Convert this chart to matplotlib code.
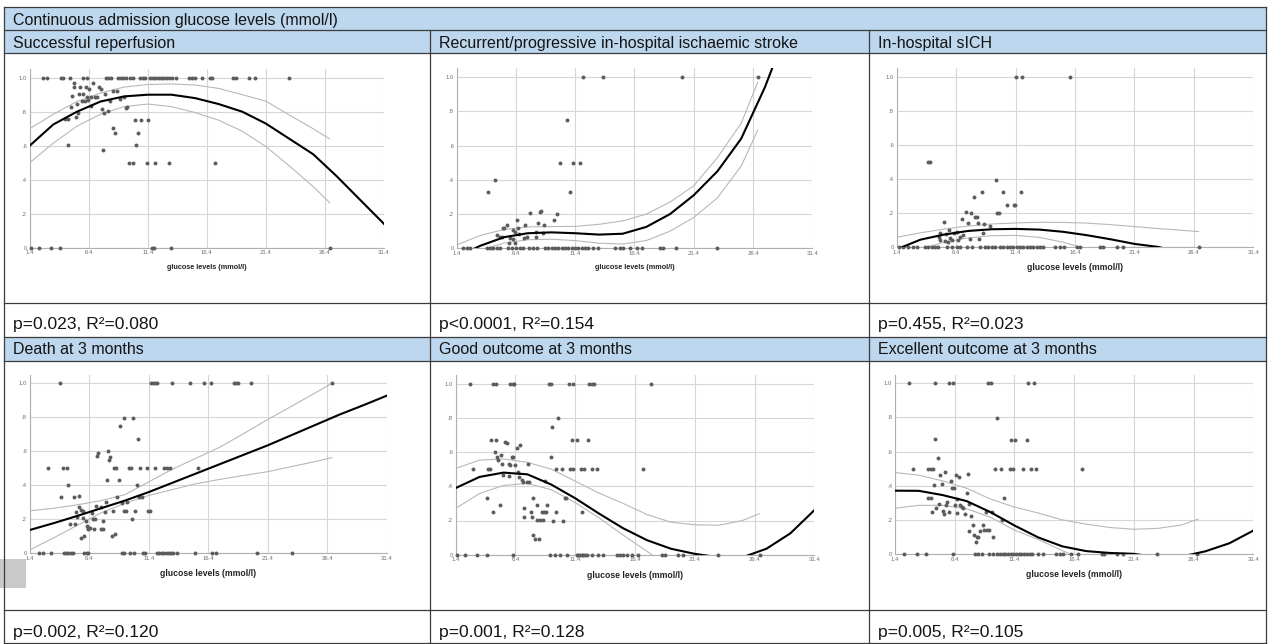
import matplotlib
matplotlib.use('Agg')
import matplotlib.pyplot as plt
from matplotlib.patches import Rectangle
from matplotlib.lines import Line2D

plt.rcParams['font.family'] = ['Liberation Sans', 'DejaVu Sans']

# ---- text ----
title = 'Continuous admission glucose levels (mmol/l)'
panel_titles = ['Successful reperfusion',
                'Recurrent/progressive in-hospital ischaemic stroke',
                'In-hospital sICH',
                'Death at 3 months',
                'Good outcome at 3 months',
                'Excellent outcome at 3 months']
stats = ['p=0.023, R²=0.080', 'p<0.0001, R²=0.154', 'p=0.455, R²=0.023',
         'p=0.002, R²=0.120', 'p=0.001, R²=0.128', 'p=0.005, R²=0.105']
xlabel = 'glucose levels (mmol/l)'

x_ticks = [1.4, 6.4, 11.4, 16.4, 21.4, 26.4, 31.4]
y_ticks = [0, .2, .4, .6, .8, 1.0]
y_ticklabels = ['0', '.2', '.4', '.6', '.8', '1.0']

fit_x = [1.4, 3.4, 5.4, 7.4, 9.4, 11.4, 13.4, 15.4, 17.4, 19.4, 21.4, 23.4, 25.4, 27.4, 29.4, 31.4]
ci_x = [1.4, 3.4, 5.4, 7.4, 9.4, 11.4, 13.4, 15.4, 17.4, 19.4, 21.4, 23.4, 25.4, 26.8]

# ---- successful reperfusion ----
reperf_x1 = [2.56, 2.84, 4.05, 4.25, 4.78, 5.94, 6.28, 7.86, 8.05, 8.28, 8.9, 9.1, 9.32, 9.55, 9.89,
             10.11, 10.73, 10.96, 11.18, 11.58, 11.8, 12.03, 12.25, 12.48, 12.71, 12.93, 13.16, 13.49,
             13.78, 14.88, 15.13, 15.38, 16.03, 16.65, 16.82, 18.63, 18.85, 19.98, 20.46, 23.36]
reperf_x0 = [1.5, 2.22, 3.2, 3.99, 11.72, 11.92, 13.35, 26.86]
reperf_mx = [5.15, 5.69, 6.16, 6.45, 6.78, 7.29, 7.4, 5.12, 5.57, 5.88, 4.98, 6.28, 6.56, 7.07, 6.9,
             7.8, 8.42, 8.76, 5.8, 6.08, 6.3, 9.04, 9.38, 8.19, 4.9, 5.38, 6.56, 7.49, 7.69, 8.0,
             9.6, 9.55, 4.39, 4.61, 5.35, 5.52, 10.28, 10.79, 11.41, 8.42, 8.62, 10.53, 4.67, 10.37,
             7.57, 9.77, 10.17, 11.3, 11.97, 13.18, 17.08]
reperf_my = [.967, .943, .943, .931, .967, .947, .931, .947, .902, .902, .892, .884, .884, .884, .887,
             .904, .924, .924, .865, .865, .869, .875, .884, .865, .829, .843, .833, .814, .794, .802,
             .829, .82, .755, .755, .767, .79, .753, .753, .753, .704, .673, .673, .602, .602,
             .573, .5, .5, .5, .5, .5, .5]
reperf_fit = [.60, .725, .80, .86, .89, .90, .90, .88, .845, .80, .73, .64, .55, .42, .28, .14]
reperf_hi = [.70, .785, .86, .91, .945, .96, .963, .957, .937, .90, .862, .78, .70, .64]
reperf_lo = [.50, .615, .715, .785, .83, .845, .83, .795, .75, .685, .595, .48, .36, .265]

# ---- recurrent / progressive ischaemic stroke ----
stroke_x1 = [12.03, 13.71, 20.43, 26.84]
stroke_x0 = [1.96, 2.3, 2.52, 3.93, 4.21, 4.49, 4.77, 5.05, 5.76, 6.04, 6.4, 6.74, 7.02, 7.53, 7.81,
             8.15, 8.85, 9.13, 9.41, 9.69, 9.97, 10.26, 10.54, 10.82, 11.1, 11.38, 11.66, 11.94,
             12.22, 12.5, 12.93, 13.35, 14.75, 15.18, 15.46, 16.02, 16.64, 17.0, 18.55, 18.77,
             19.9, 23.33]
stroke_mx = [10.71, 10.12, 11.21, 11.83, 10.99, 4.01, 4.6, 9.89, 9.61, 7.59, 8.43, 8.5, 8.29, 8.79,
             7.19, 6.49, 5.67, 5.28, 5.39, 4.77, 5.05, 6.18, 6.32, 6.6, 6.18, 5.9, 5.84, 6.32, 6.69,
             7.11, 7.3, 8.09, 8.09, 8.71, 5.2]
stroke_my = [.751, .5, .5, .5, .329, .329, .397, .198, .167, .208, .214, .22, .15, .138,
             .138, .167, .138, .119, .119, .078, .068, .107, .097, .119, .053, .058, .029, .029, .084,
             .058, .068, .097, .068, .089, .064]
stroke_fit = [-.05, .015, .065, .088, .093, .088, .08, .085, .125, .20, .31, .45, .64, .94, 1.3, 1.7]
stroke_hi = [.02, .075, .11, .125, .127, .128, .14, .16, .20, .27, .365, .53, .73, .97]
stroke_lo = [-.06, -.01, .03, .05, .053, .045, .03, .025, .045, .10, .18, .295, .48, .69]

# ---- in-hospital sICH ----
sich_x1 = [11.44, 11.97, 15.98]
sich_x0 = [1.62, 1.96, 2.38, 2.75, 3.08, 3.78, 4.06, 4.34, 4.62, 4.9, 5.61, 6.03, 6.45, 6.73, 7.29,
           7.71, 8.41, 8.83, 9.11, 9.39, 9.67, 10.09, 10.37, 10.65, 10.93, 11.21, 11.49, 11.77,
           12.05, 12.33, 12.61, 12.89, 13.17, 13.46, 13.68, 14.72, 15.14, 15.47, 16.54, 16.82,
           18.5, 18.78, 19.9, 20.46, 26.86]
sich_mx = [4.05, 4.2, 9.75, 10.37, 11.89, 8.58, 7.88, 10.68, 11.27, 11.36, 9.84, 9.98, 7.23, 7.65,
           7.99, 8.16, 7.43, 8.26, 8.77, 9.28, 6.92, 5.35, 5.77, 6.45, 6.22, 5.04, 4.96, 5.52, 5.89,
           6.03, 6.73, 7.01, 6.59, 7.57, 8.35, 8.63, 5.04, 5.47, 5.75]
sich_my = [.5, .5, .397, .325, .325, .325, .297, .25, .25, .25, .2, .2, .209, .2,
           .178, .178, .145, .145, .137, .127, .168, .149, .102, .092, .082, .082, .061, .08, .053,
           .043, .059, .072, .043, .047, .047, .086, .043, .037, .029]
sich_fit = [-.012, .045, .075, .096, .106, .108, .104, .091, .071, .047, .02, .002, -.03, -.07, -.12, -.18]
sich_hi = [.059, .085, .107, .125, .137, .143, .147, .146, .142, .133, .122, .11, .10, .092]
sich_lo = [-.06, -.01, .03, .055, .068, .07, .058, .03, -.01, -.06, -.12, -.18, -.25, -.30]

# ---- death at 3 months ----
death_x1 = [3.98, 11.6, 11.74, 11.94, 12.08, 13.39, 14.87, 16.08, 16.67, 18.6, 18.74, 18.88, 19.97, 26.83]
death_x0 = [2.21, 2.55, 3.19, 4.29, 4.45, 4.65, 4.85, 5.01, 5.97, 6.19, 6.33, 9.19, 9.36, 9.8, 10.17,
            10.9, 11.09, 12.13, 12.3, 12.49, 12.69, 12.91, 13.11, 13.25, 13.47, 13.75, 15.29, 16.72,
            17.06, 20.48, 23.42]
death_mx = [2.91, 4.17, 4.51, 4.65, 4.06, 5.1, 5.52, 7.12, 7.06, 7.98, 8.18, 8.07, 8.99, 9.3, 10.08,
            10.5, 8.51, 8.68, 9.78, 9.92, 10.7, 11.29, 11.94, 12.72, 12.91, 13.19, 15.57, 7.87, 8.88,
            10.39, 8.77, 10.61, 10.81, 9.13, 9.58, 7.81, 7.0, 7.37, 7.73, 8.43, 9.36, 9.5, 10.28,
            11.37, 11.48, 9.99, 6.64, 5.91, 5.32, 5.57, 5.71, 5.41, 5.88, 6.11, 6.69, 6.89, 7.53,
            4.79, 5.21, 6.19, 6.33, 6.47, 6.27, 6.78, 7.37, 7.53, 5.69, 5.97, 8.29, 8.57]
death_my = [.5, .5, .5, .4, .329, .329, .339, .592, .573, .6, .569, .549, .749, .798, .798,
            .671, .5, .5, .5, .5, .5, .5, .5, .5, .5, .5, .5, .429, .429,
            .4, .329, .329, .329, .296, .3, .3, .28, .275, .241, .251, .251, .251, .251,
            .251, .251, .2, .239, .247, .241, .271, .255, .216, .21, .19, .2, .2, .19,
            .171, .171, .161, .151, .149, .141, .141, .141, .141, .09, .1, .102, .112]
death_fit = [.137, .177, .22, .265, .31, .36, .415, .47, .525, .58, .635, .695, .755, .815, .87, .927]
death_hi = [.25, .265, .285, .31, .345, .42, .495, .56, .625, .705, .787, .865, .944, 1.0]
death_lo = [.02, .09, .165, .238, .295, .34, .375, .41, .435, .458, .48, .51, .54, .563]

# ---- good outcome at 3 months ----
good_x1 = [2.6, 4.55, 4.75, 5.94, 6.17, 6.31, 9.21, 9.35, 10.91, 11.19, 12.55, 12.77, 13.0, 17.76]
good_x0 = [1.5, 2.18, 3.16, 3.99, 6.22, 9.29, 9.71, 10.13, 10.68, 11.52, 11.66, 11.8, 11.94, 12.08,
           12.22, 12.36, 12.77, 13.33, 13.75, 14.87, 15.14, 15.42, 15.7, 16.12, 16.68, 18.63,
           18.91, 20.02, 20.44, 23.37, 26.85]
good_mx = [2.88, 4.13, 4.27, 4.36, 4.77, 4.66, 4.49, 4.05, 5.08, 4.91, 4.83, 5.16, 5.25, 5.55, 5.67,
           5.83, 5.94, 6.22, 6.1, 6.33, 6.5, 6.78, 5.39, 5.86, 6.58, 6.72, 6.95, 7.06, 7.34, 7.56,
           7.48, 8.87, 9.4, 9.48, 9.99, 9.79, 10.27, 10.96, 11.24, 11.85, 12.13, 12.83, 13.19, 11.1,
           11.52, 12.5, 17.1, 7.14, 7.67, 7.11, 7.78, 7.9, 8.23, 8.59, 8.75, 8.97, 9.03, 9.82,
           10.54, 10.64, 8.23, 8.45, 8.67, 9.57, 10.4, 11.99, 7.9, 8.04, 8.34]
good_my = [.501, .501, .501, .671, .671, .602, .251, .329, .29, .554, .573, .581, .532, .661, .651,
           .53, .522, .573, .573, .522, .622, .641, .466, .462, .481, .456, .437, .423, .427, .427,
           .53, .433, .571, .749, .801, .501, .501, .501, .501, .501, .501, .501, .501, .671,
           .671, .671, .501, .271, .251, .222, .222, .329, .29, .251, .251, .251, .29, .251,
           .329, .329, .203, .203, .203, .199, .199, .251, .115, .094, .092]
good_fit = [.39, .455, .48, .47, .41, .33, .24, .155, .085, .035, .005, -.015, -.015, .035, .125, .26]
good_hi = [.505, .553, .56, .54, .50, .43, .36, .30, .235, .19, .175, .172, .20, .24]
good_lo = [.271, .358, .405, .417, .38, .305, .215, .115, .02, -.08, -.18, -.28, -.38, -.45]

# ---- excellent outcome at 3 months ----
exc_x1 = [2.6, 4.78, 5.95, 6.23, 9.21, 9.41, 12.56, 13.06]
exc_x0 = [2.18, 3.21, 3.97, 6.23, 8.1, 8.38, 8.66, 9.27, 9.63, 9.91, 10.19, 10.41, 10.64, 10.86,
          11.08, 11.31, 11.53, 11.75, 11.98, 12.2, 12.42, 12.7, 12.9, 13.4, 13.76, 14.88, 15.22,
          15.49, 16.14, 16.75, 18.7, 18.9, 19.96, 20.46, 23.36, 26.71]
exc_mx = [2.88, 4.19, 4.39, 4.58, 4.78, 4.97, 4.14, 4.39, 4.47, 4.67, 4.83, 5.08, 5.17, 5.31, 5.39,
          5.5, 5.59, 5.67, 5.78, 5.89, 6.06, 6.17, 6.31, 6.4, 6.48, 6.56, 6.62, 6.76, 6.87, 6.98,
          7.12, 7.26, 7.4, 7.48, 7.57, 7.62, 7.76, 7.96, 7.99, 8.15, 8.24, 8.38, 8.55, 8.74, 8.88,
          8.99, 9.07, 9.3, 9.49, 9.58, 9.77, 10.27, 9.97, 10.36, 10.55, 11.03, 11.25, 11.11, 11.45,
          12.15, 12.42, 12.76, 13.18, 17.08]
exc_my = [.498, .498, .498, .498, .672, .561, .33, .33, .248, .402, .268, .291, .461, .41, .25,
          .234, .479, .285, .307, .248, .43, .389, .389, .287, .461, .238, .324, .453, .287, .277,
          .268, .232, .359, .469, .291, .133, .221, .172, .111, .068, .102, .102, .133, .172, .141,
          .248, .141, .141, .248, .102, .498, .498, .799, .199, .33, .498, .498, .668, .668,
          .498, .668, .498, .498, .498]
exc_fit = [.371, .37, .345, .31, .245, .167, .097, .045, .017, .006, .001, -.02, -.015, .016, .063, .137]
exc_hi = [.477, .462, .428, .385, .322, .275, .24, .20, .175, .155, .145, .15, .17, .205]
exc_lo = [.268, .285, .285, .265, .215, .14, .085, .02, -.04, -.1, -.16, -.22, -.28, -.32]

panels = [
    (reperf_x1, reperf_x0, reperf_mx, reperf_my, reperf_fit, reperf_hi, reperf_lo),
    (stroke_x1, stroke_x0, stroke_mx, stroke_my, stroke_fit, stroke_hi, stroke_lo),
    (sich_x1, sich_x0, sich_mx, sich_my, sich_fit, sich_hi, sich_lo),
    (death_x1, death_x0, death_mx, death_my, death_fit, death_hi, death_lo),
    (good_x1, good_x0, good_mx, good_my, good_fit, good_hi, good_lo),
    (exc_x1, exc_x0, exc_mx, exc_my, exc_fit, exc_hi, exc_lo),
]

# ---- layout (pixels) ----
W, H = 1269, 644
# left, right, y of 0, pixels per unit
axes_px = [(29.7, 384.0, 247.7, 170.0), (456.7, 812.3, 248.3, 171.3), (896.7, 1253.3, 247.3, 170.3),
           (29.7, 386.7, 553.3, 170.0), (455.7, 814.3, 554.7, 171.0), (895.0, 1253.3, 554.0, 170.7)]
label_sizes = [5.2, 5.2, 6.2, 6.2, 6.2, 6.2]
col_text_x = [13, 439, 878]

fig = plt.figure(figsize=(W / 100, H / 100), dpi=100)
fig.patch.set_facecolor('white')


def fy(y):
    return 1 - y / H


blue = '#bdd7ee'
for y0, y1 in [(7, 30), (30, 53), (337, 361)]:
    fig.add_artist(Rectangle((4 / W, fy(y1)), 1262 / W, (y1 - y0) / H,
                             transform=fig.transFigure, facecolor=blue, edgecolor='none', zorder=0))

# grey block at the left edge
fig.add_artist(Rectangle((0, fy(588)), 26 / W, 29 / H, transform=fig.transFigure,
                         facecolor='#c9c9c9', edgecolor='none', zorder=1))

line_c = '#3c3c3c'
for y in [7, 30, 53, 303, 337, 361, 610, 643]:
    fig.add_artist(Line2D([4 / W, 1266 / W], [fy(y), fy(y)], color=line_c, lw=0.9, zorder=2))
for x, ya in [(4, 7), (1266, 7), (430, 30), (869, 30)]:
    fig.add_artist(Line2D([x / W, x / W], [fy(ya), fy(643)], color=line_c, lw=0.9, zorder=2))

txt_c = '#141414'
fig.text(13 / W, fy(24.5), title, fontsize=11.5, va='baseline', color=txt_c)
for i, name in enumerate(panel_titles):
    row, col = divmod(i, 3)
    base = 48 if row == 0 else 354.5
    fig.text(col_text_x[col] / W, fy(base), name, fontsize=11.5, va='baseline', color=txt_c)
    pbase = 329.5 if row == 0 else 636.5
    fig.text(col_text_x[col] / W, fy(pbase), stats[i], fontsize=12.6, va='baseline', color=txt_c)

dot_c = '#5c5c5c'
for i, (x1, x0, mx, my, fit, hi, lo) in enumerate(panels):
    left, right, ybot, unit = axes_px[i]
    ax = fig.add_axes([left / W, fy(ybot), (right - left) / W, 1.05 * unit / H])
    ax.set_xlim(1.4, 31.4)
    ax.set_ylim(0, 1.05)
    ax.set_xticks(x_ticks)
    ax.set_xticklabels([str(t) for t in x_ticks])
    ax.set_yticks(y_ticks)
    ax.set_yticklabels(y_ticklabels)
    ax.tick_params(length=0, labelsize=4.3, labelcolor='#707070', pad=2)
    ax.grid(True, color='#d6d6d6', lw=0.8)
    ax.set_axisbelow(True)
    for s in ['top', 'right']:
        ax.spines[s].set_visible(False)
    for s in ['left', 'bottom']:
        ax.spines[s].set_color('#b0b0b0')
        ax.spines[s].set_linewidth(0.8)
    ax.patch.set_alpha(0)

    ax.plot(ci_x[:len(hi)], hi, color='#b8b8b8', lw=0.8, zorder=2)
    ax.plot(ci_x[:len(lo)], lo, color='#b8b8b8', lw=0.8, zorder=2)
    ax.plot(fit_x, fit, color='black', lw=1.5, zorder=4, solid_joinstyle='round')

    ax.scatter(x1, [1.0] * len(x1), s=8, c=dot_c, lw=0, zorder=3, clip_on=False)
    ax.scatter(x0, [0.0] * len(x0), s=8, c=dot_c, lw=0, zorder=3, clip_on=False)
    ax.scatter(mx, my, s=8, c=dot_c, lw=0, zorder=3)

    ax.set_xlabel(xlabel, fontsize=label_sizes[i], fontweight='bold', color='#222222', labelpad=6)

fig.savefig('out.png', dpi=100)
